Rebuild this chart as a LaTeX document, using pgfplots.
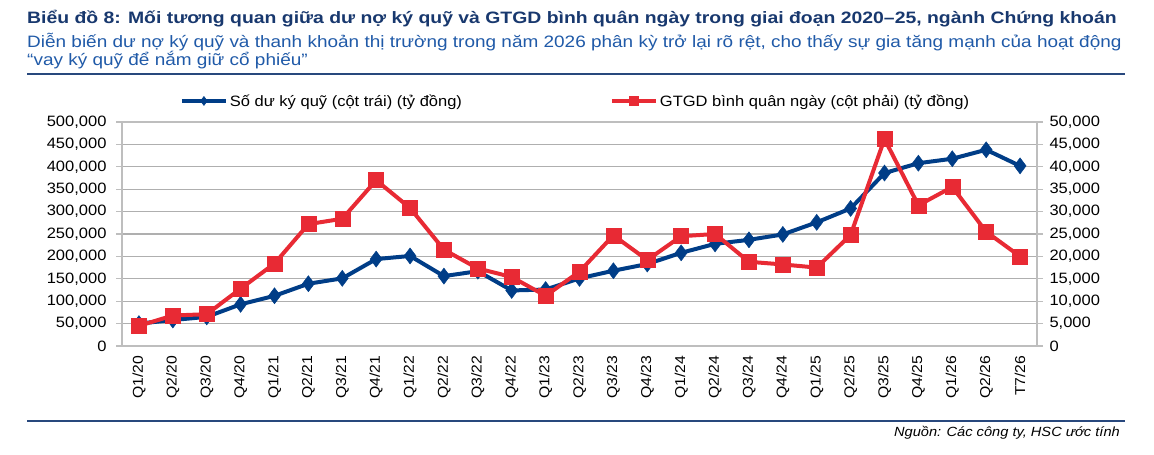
\documentclass[border=0pt]{standalone}
\usepackage{pgfplots}
\usepackage{pgfplotstable}
\pgfplotsset{compat=1.18}
\usepackage{fontspec}
\setmainfont[FakeStretch=1.1]{Liberation Sans}
\newfontfamily\titlefont[FakeStretch=1.175]{Liberation Sans}
\newfontfamily\subfont[FakeStretch=1.15]{Liberation Sans}
\definecolor{titleblue}{RGB}{24,56,110}
\definecolor{subblue}{RGB}{32,90,168}
\definecolor{rulecol}{RGB}{40,72,125}
\definecolor{serblue}{RGB}{0,61,135}
\definecolor{serred}{RGB}{232,42,52}
\definecolor{gridgray}{RGB}{175,175,175}
\definecolor{axgray}{RGB}{190,190,190}

\pgfplotstableread{
x y
0 50000
1 58000
2 65000
3 93000
4 112000
5 139000
6 151000
7 194000
8 201000
9 156000
10 167000
11 124000
12 126000
13 151000
14 168000
15 183000
16 208000
17 228000
18 237000
19 249000
20 276000
21 307000
22 386000
23 408000
24 418000
25 438000
26 402000
}\bluedata

\pgfplotstableread{
x y
0 4500
1 6800
2 7100
3 12800
4 18400
5 27200
6 28400
7 37000
8 30800
9 21500
10 17300
11 15400
12 11200
13 16600
14 24700
15 19200
16 24500
17 25000
18 18800
19 18200
20 17500
21 24800
22 46200
23 31400
24 35500
25 25500
26 20000
}\reddata

\pgfplotsset{
  common/.style={
    at={(122pt,109pt)}, anchor=south west,
    scale only axis, width=915pt, height=224pt,
    xmin=-0.5, xmax=26.5, ymin=0,
    axis line style={axgray, line width=1.2pt},
    tick style={axgray, line width=1.2pt},
    tick align=outside,
    major tick length=6pt,
    scaled y ticks=false,
    /pgf/number format/.cd, 1000 sep={,}, fixed, precision=0, assume math mode=true,
    /pgfplots/.cd,
    ticklabel style={font=\fontsize{15}{18}\selectfont, text=black},
  },
  bluestyle/.style={serblue, line width=4pt, mark=diamond*, mark size=8pt, mark options={solid, serblue, line width=0.5pt}},
  redstyle/.style={serred, line width=4pt, mark=square*, mark size=7.5pt, mark options={solid, serred, line width=0.5pt}},
}

\begin{document}
\begin{tikzpicture}[x=1pt,y=1pt]
\useasboundingbox (0,0) rectangle (1154,455);
\node[anchor=base west, inner sep=0, text=titleblue, font=\titlefont\fontsize{16.5}{20}\selectfont\bfseries] at (27,431.5) {Biểu đồ 8: Mối tương quan giữa dư nợ ký quỹ và GTGD bình quân ngày trong giai đoạn 2020–25, ngành Chứng khoán};
\node[anchor=base west, inner sep=0, text=subblue, font=\subfont\fontsize{16.5}{18}\selectfont] at (27,407.3) {Diễn biến dư nợ ký quỹ và thanh khoản thị trường trong năm 2026 phân kỳ trở lại rõ rệt, cho thấy sự gia tăng mạnh của hoạt động};
\node[anchor=base west, inner sep=0, text=subblue, font=\subfont\fontsize{16.5}{18}\selectfont] at (27,389) {“vay ký quỹ để nắm giữ cổ phiếu”};
\draw[rulecol, line width=1.5pt] (27,381) -- (1125,381);
\draw[rulecol, line width=1.2pt] (27,34) -- (1125,34);
\node[anchor=base east, inner sep=0, font=\fontsize{13.3}{16}\selectfont\itshape] at (1120,18) {Nguồn: Các công ty, HSC ước tính};

\begin{axis}[common,
  ymax=500000, ytick distance=50000,
  ymajorgrids, grid style={gridgray, line width=1.2pt},
  ytick pos=left, xtick pos=bottom,
  yticklabel shift=6pt,
  xtick={0,...,26},
  xticklabels={Q1/20,Q2/20,Q3/20,Q4/20,Q1/21,Q2/21,Q3/21,Q4/21,Q1/22,Q2/22,Q3/22,Q4/22,Q1/23,Q2/23,Q3/23,Q4/23,Q1/24,Q2/24,Q3/24,Q4/24,Q1/25,Q2/25,Q3/25,Q4/25,Q1/26,Q2/26,T7/26},
  xticklabel style={rotate=90, anchor=east, font=\fontsize{14.3}{16}\selectfont},
  xtick style={draw=none},
  minor xtick={-0.5,0.5,...,26.5},
  minor tick length=6pt,
  minor tick style={axgray, line width=1.2pt},
]
\addplot[bluestyle] table[x=x,y=y] {\bluedata};
\end{axis}

\begin{axis}[common,
  ymax=50000, ytick distance=5000,
  hide x axis,
  axis y line*=right,
  yticklabel shift=3pt,
  legend style={at={(0.5,1)}, anchor=center, yshift=21pt, xshift=-4pt, draw=none, fill=none,
    font=\fontsize{15}{18}\selectfont, legend columns=2,
    /tikz/every even column/.append style={column sep=146pt}},
  legend cell align=left,
  legend image code/.code={\draw[#1, mark repeat=2, mark phase=2] plot coordinates {(0pt,0pt)(22pt,0pt)(44pt,0pt)};},
  legend image post style={mark size=4.5pt},
]
\addlegendimage{bluestyle}
\addlegendentry{Số dư ký quỹ (cột trái) (tỷ đồng)}
\addplot[redstyle] table[x=x,y=y] {\reddata};
\addlegendentry{GTGD bình quân ngày (cột phải) (tỷ đồng)}
\end{axis}
\end{tikzpicture}
\end{document}
